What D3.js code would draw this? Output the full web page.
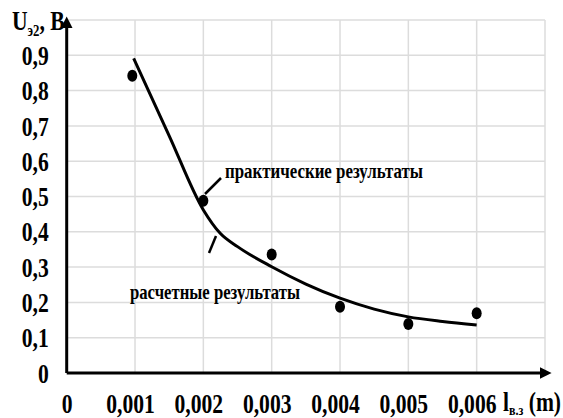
<!DOCTYPE html>
<html>
<head>
<meta charset="utf-8">
<script src="https://cdn.jsdelivr.net/npm/d3@7"></script>
<style>
  body { margin: 0; background: #fff; }
  svg text { font-family: "Liberation Serif", "Times New Roman", serif !important; font-weight: bold; fill: #000; }
</style>
</head>
<body>
<div id="chart"></div>
<script>
// measured points (practical results)
const measX = [0.00096, 0.002, 0.003, 0.004, 0.005, 0.006];
const measY = [0.842, 0.488, 0.336, 0.188, 0.139, 0.169];

// calculated curve
const calcX = [0.00098, 0.0015, 0.002, 0.00225, 0.0025, 0.003, 0.0035, 0.004, 0.0045, 0.005, 0.0055, 0.006];
const calcY = [0.891, 0.672, 0.462, 0.395, 0.358, 0.301, 0.252, 0.212, 0.181, 0.159, 0.146, 0.136];

const xTicks = [0, 0.001, 0.002, 0.003, 0.004, 0.005, 0.006];
const xTickLabels = ["0", "0,001", "0,002", "0,003", "0,004", "0,005", "0,006"];
const yTicks = [0, 0.1, 0.2, 0.3, 0.4, 0.5, 0.6, 0.7, 0.8, 0.9];
const yTickLabels = ["0", "0,1", "0,2", "0,3", "0,4", "0,5", "0,6", "0,7", "0,8", "0,9"];

const W = 563, H = 418;
const x = d3.scaleLinear().domain([0, 0.007]).range([66.7, 545]);
const y = d3.scaleLinear().domain([0, 1]).range([373, 20]);
const sx = 0.8; // horizontal squeeze of the bold serif labels

const svg = d3.select("#chart").append("svg")
    .attr("width", W)
    .attr("height", H);

svg.append("defs").append("marker")
    .attr("id", "arrow")
    .attr("viewBox", "0 0 10 10")
    .attr("refX", 2).attr("refY", 5)
    .attr("markerWidth", 4).attr("markerHeight", 4)
    .attr("orient", "auto")
  .append("path")
    .attr("d", "M0,0 L10,5 L0,10 z")
    .attr("fill", "#000");

// grid
const gridX = d3.range(1, 8).map(i => i * 0.001);
const gridY = d3.range(1, 11).map(i => i / 10);
svg.append("g").selectAll("line").data(gridX).join("line")
    .attr("x1", d => x(d)).attr("x2", d => x(d))
    .attr("y1", y(0)).attr("y2", y(1))
    .attr("stroke", "#dcdcdc").attr("stroke-width", 1.5);
svg.append("g").selectAll("line").data(gridY).join("line")
    .attr("x1", x(0)).attr("x2", x(0.007))
    .attr("y1", d => y(d)).attr("y2", d => y(d))
    .attr("stroke", "#dcdcdc").attr("stroke-width", 1.5);

// axes lines with arrows
svg.append("line")
    .attr("x1", x(0)).attr("x2", x(0.007) - 3)
    .attr("y1", y(0)).attr("y2", y(0))
    .attr("stroke", "#000").attr("stroke-width", 3)
    .attr("marker-end", "url(#arrow)");
svg.append("line")
    .attr("x1", x(0)).attr("x2", x(0))
    .attr("y1", y(0)).attr("y2", y(1) + 6)
    .attr("stroke", "#000").attr("stroke-width", 3)
    .attr("marker-end", "url(#arrow)");

// tick labels
const yAxis = d3.axisLeft(y).tickValues(yTicks).tickSize(0).tickPadding(18)
    .tickFormat((d, i) => yTickLabels[i]);
svg.append("g")
    .attr("transform", `translate(${x(0)},0)`)
    .call(yAxis)
    .call(g => g.select(".domain").remove())
    .call(g => g.selectAll(".tick text")
        .attr("font-size", 27)
        .attr("dy", "0.34em")
        .attr("transform", `scale(${sx},1)`)
        .attr("x", -18 / sx));

const xAxis = d3.axisBottom(x).tickValues(xTicks).tickSize(0).tickPadding(21)
    .tickFormat((d, i) => xTickLabels[i]);
svg.append("g")
    .attr("transform", `translate(0,${y(0)})`)
    .call(xAxis)
    .call(g => g.select(".domain").remove())
    .call(g => g.selectAll(".tick text")
        .attr("font-size", 27)
        .attr("transform", (d, i) => i === 0 ? `scale(${sx},1)` : `translate(-5,0) scale(${sx},1)`));

// curve
const line = d3.line()
    .curve(d3.curveMonotoneX)
    .x(d => x(d[0]))
    .y(d => y(d[1]));
svg.append("path")
    .datum(calcX.map((v, i) => [v, calcY[i]]))
    .attr("d", line)
    .attr("fill", "none")
    .attr("stroke", "#000")
    .attr("stroke-width", 3);

// points
svg.append("g").selectAll("ellipse").data(measX).join("ellipse")
    .attr("cx", d => x(d))
    .attr("cy", (d, i) => y(measY[i]))
    .attr("rx", 5).attr("ry", 6)
    .attr("fill", "#000");

// annotations
svg.append("line")
    .attr("x1", 205).attr("y1", 194).attr("x2", 221).attr("y2", 178)
    .attr("stroke", "#000").attr("stroke-width", 2.5);
svg.append("text")
    .attr("x", 225).attr("y", 178)
    .attr("font-size", 22)
    .attr("textLength", 198).attr("lengthAdjust", "spacingAndGlyphs")
    .text("практические результаты");

svg.append("line")
    .attr("x1", 209).attr("y1", 253).attr("x2", 216).attr("y2", 236)
    .attr("stroke", "#000").attr("stroke-width", 2.5);
svg.append("text")
    .attr("x", 130).attr("y", 299)
    .attr("font-size", 22)
    .attr("textLength", 170).attr("lengthAdjust", "spacingAndGlyphs")
    .text("расчетные результаты");

// axis titles
const yt = svg.append("text").attr("x", 12 / sx).attr("y", 30).attr("font-size", 27)
    .attr("transform", `scale(${sx},1)`);
yt.append("tspan").text("U");
yt.append("tspan").attr("font-size", 16).attr("dy", 6).text("э2");
yt.append("tspan").attr("dy", -6).text(", B");

const xt = svg.append("text").attr("x", 503 / sx).attr("y", 411).attr("font-size", 27)
    .attr("transform", `scale(${sx},1)`);
xt.append("tspan").text("l");
xt.append("tspan").attr("font-size", 15).attr("dy", 4).text("в.з");
xt.append("tspan").attr("dy", -4).text(" (m)");
</script>
</body>
</html>
